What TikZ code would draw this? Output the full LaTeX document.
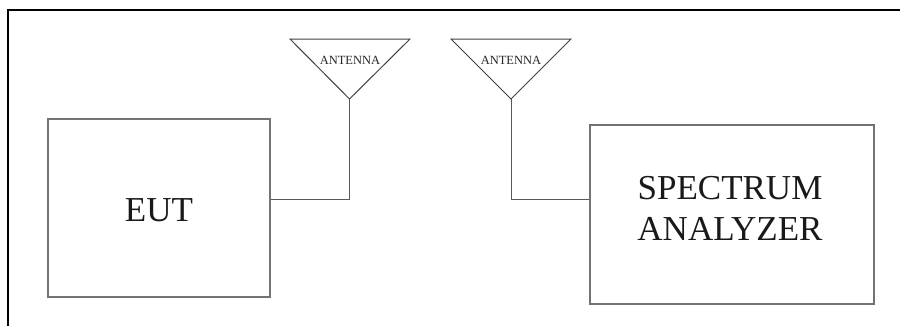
\documentclass[tikz,border=0pt]{standalone}
\usepackage{fontspec}
\setmainfont{Liberation Serif}
\begin{document}
\begin{tikzpicture}[x=1pt,y=-1pt,
  frameline/.style={draw=black,line width=2.6pt},
  boxline/.style={draw=black!55,line width=1.3pt},
  antline/.style={draw=black!75,line width=1pt},
  wire/.style={draw=black!65,line width=1pt},
  bigtext/.style={font=\fontsize{35}{41}\selectfont,text=black!90,align=center},
  anttext/.style={font=\fontsize{12.5}{14}\selectfont,text=black!85}]
\useasboundingbox (0,0) rectangle (900,325);
% frame
\coordinate (fbl) at (8,326);
\coordinate (ftl) at (8,10);
\coordinate (ftr) at (901,10);
\draw[frameline] (fbl) -- (ftl) -- (ftr);
% boxes
\node[boxline,minimum width=222pt,minimum height=178pt,inner sep=0pt] (eut) at (159,208) {};
\node[bigtext] (eutlbl) at (159,210) {EUT};
\node[boxline,minimum width=284pt,minimum height=179pt,inner sep=0pt] (sa) at (732,214.5) {};
\node[bigtext] (salbl) at (730,208) {SPECTRUM\\ANALYZER};
% antennas
\coordinate (a1l) at (290,39); \coordinate (a1r) at (410,39); \coordinate (a1tip) at (349.5,99);
\draw[antline] (a1l) -- (a1r) -- (a1tip) -- cycle;
\node[anttext] (a1) at (350,60) {ANTENNA};
\coordinate (a2l) at (451,39); \coordinate (a2r) at (571,39); \coordinate (a2tip) at (511,99);
\draw[antline] (a2l) -- (a2r) -- (a2tip) -- cycle;
\node[anttext] (a2) at (511,60) {ANTENNA};
% wires
\coordinate (w1) at (eut.east |- 0,199);
\coordinate (w2) at (sa.west |- 0,199);
\draw[wire] (a1tip) |- (w1);
\draw[wire] (a2tip) |- (w2);
\end{tikzpicture}
\end{document}
